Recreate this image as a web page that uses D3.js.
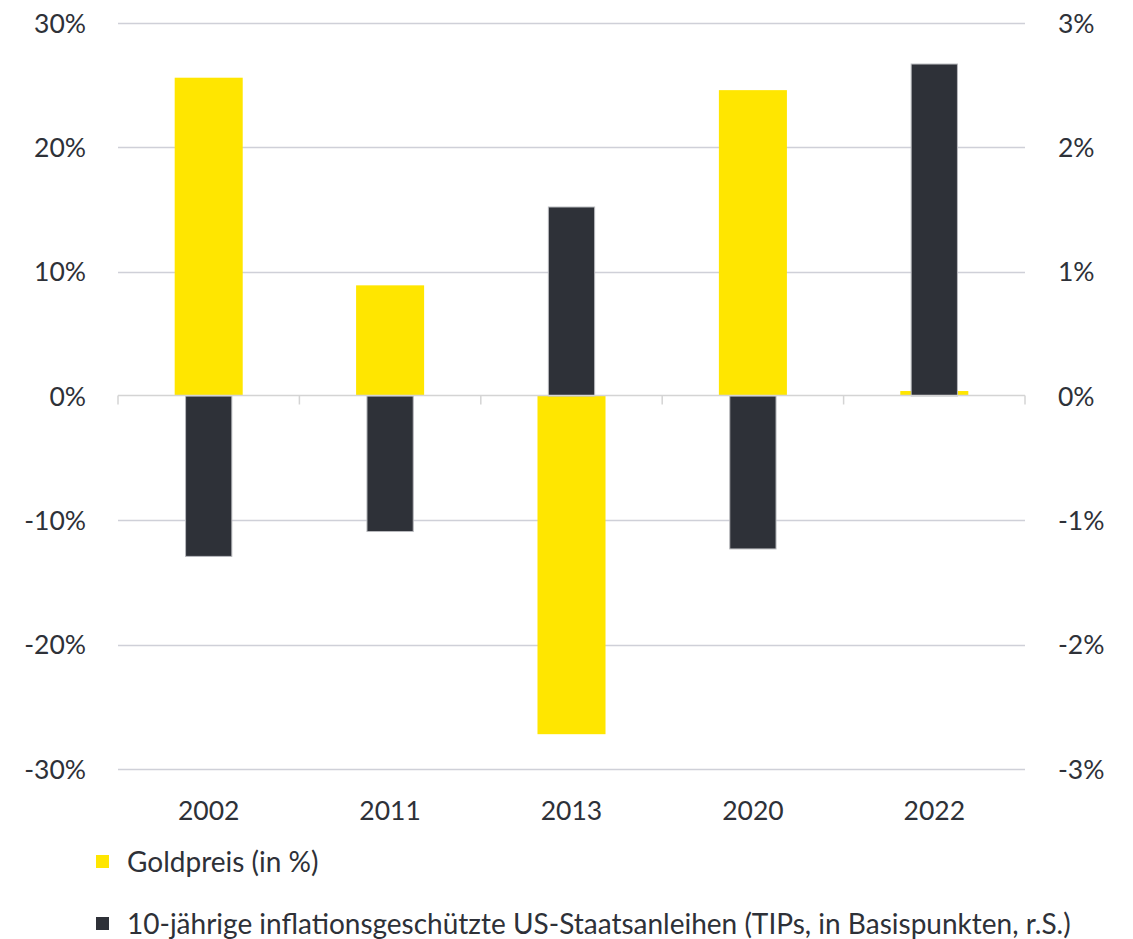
<!DOCTYPE html>
<html>
<head>
<meta charset="utf-8">
<script src="https://cdn.jsdelivr.net/npm/d3@7"></script>
<style>
  body { margin: 0; background: #fff; }
  text { font-family: Lato, "Open Sans", sans-serif; fill: #2e3138; }
</style>
</head>
<body>
<svg id="chart" width="1133" height="939"></svg>
<script>
// data
const years = ['2002', '2011', '2013', '2020', '2022'];
const gold = [25.6, 8.9, -27.2, 24.6, 0.4];          // Goldpreis, %
const tips = [-1.29, -1.09, 1.52, -1.23, 2.67];      // TIPs, r.S.
const leftTicks = [-30, -20, -10, 0, 10, 20, 30];
const rightTicks = [-3, -2, -1, 0, 1, 2, 3];
const legendLabels = [
  'Goldpreis (in %)',
  '10-jährige inflationsgeschützte US-Staatsanleihen (TIPs, in Basispunkten, r.S.)'
];

const GOLD = '#ffe600';
const DARK = '#2e3138';
const GRID = '#cfd0d8';

const MARGIN = { TOP: 23, LEFT: 118, RIGHT: 108 };
const WIDTH = 1133 - MARGIN.LEFT - MARGIN.RIGHT;

const svg = d3.select('#chart');
const g = svg.append('g').attr('transform', `translate(${MARGIN.LEFT}, 0)`);

const x = d3.scaleBand().domain(years).range([0, WIDTH]);
const yL = d3.scaleLinear().domain([-30, 30]).range([769, 23]);
const yR = d3.scaleLinear().domain([-3, 3]).range([769, 23]);

// gridlines
g.selectAll('.grid')
  .data(leftTicks.filter(d => d !== 0))
  .enter()
  .append('line')
  .attr('x1', 0)
  .attr('x2', WIDTH)
  .attr('y1', d => Math.round(yL(d)) + 0.5)
  .attr('y2', d => Math.round(yL(d)) + 0.5)
  .attr('stroke', GRID)
  .attr('stroke-width', 1.5);

// left labels
g.selectAll('.ltick')
  .data(leftTicks)
  .enter()
  .append('text')
  .attr('x', -32)
  .attr('y', d => yL(d))
  .attr('dy', '0.36em')
  .attr('text-anchor', 'end')
  .style('font-size', '26.5px')
  .text(d => d + '%');

// right labels
g.selectAll('.rtick')
  .data(rightTicks)
  .enter()
  .append('text')
  .attr('x', WIDTH + 33)
  .attr('y', d => yR(d))
  .attr('dy', '0.36em')
  .attr('text-anchor', 'start')
  .style('font-size', '26.5px')
  .text(d => d + '%');

// gold bars
const gw = x.bandwidth() * 0.375;
g.selectAll('.gold')
  .data(gold)
  .enter()
  .append('rect')
  .attr('x', (d, i) => x(years[i]) + (x.bandwidth() - gw) / 2)
  .attr('y', d => yL(Math.max(0, d)))
  .attr('width', gw)
  .attr('height', d => Math.abs(yL(d) - yL(0)))
  .attr('fill', GOLD);

// TIPs bars
const tw = x.bandwidth() * 0.255;
g.selectAll('.tips')
  .data(tips)
  .enter()
  .append('rect')
  .attr('x', (d, i) => x(years[i]) + (x.bandwidth() - tw) / 2)
  .attr('y', d => yR(Math.max(0, d)))
  .attr('width', tw)
  .attr('height', d => Math.abs(yR(d) - yR(0)))
  .attr('fill', DARK)
  .attr('stroke', '#b8b9bd')
  .attr('stroke-width', 1);

// zero axis with category ticks
const y0 = Math.round(yL(0)) - 0.5;
g.append('line')
  .attr('x1', 0).attr('x2', WIDTH)
  .attr('y1', y0).attr('y2', y0)
  .attr('stroke', '#d4d4d4')
  .attr('stroke-width', 1.5);
g.selectAll('.xtick')
  .data(d3.range(years.length + 1))
  .enter()
  .append('line')
  .attr('x1', i => i * x.step())
  .attr('x2', i => i * x.step())
  .attr('y1', y0)
  .attr('y2', y0 + 9)
  .attr('stroke', '#d4d4d4')
  .attr('stroke-width', 1.5);

// category labels
g.selectAll('.xlabel')
  .data(years)
  .enter()
  .append('text')
  .attr('x', d => x(d) + x.bandwidth() / 2)
  .attr('y', 810)
  .attr('dy', '0.36em')
  .attr('text-anchor', 'middle')
  .style('font-size', '26.5px')
  .text(d => d);

// legend
const legend = svg.selectAll('.legend')
  .data(legendLabels)
  .enter()
  .append('g')
  .attr('transform', (d, i) => `translate(96, ${862 + i * 62})`);
legend.append('rect')
  .attr('x', 0).attr('y', -7)
  .attr('width', 13).attr('height', 13)
  .attr('fill', (d, i) => i === 0 ? GOLD : DARK);
legend.append('text')
  .attr('x', 31)
  .attr('y', 0)
  .attr('dy', '0.36em')
  .style('font-size', '28px')
  .text(d => d);
</script>
</body>
</html>
